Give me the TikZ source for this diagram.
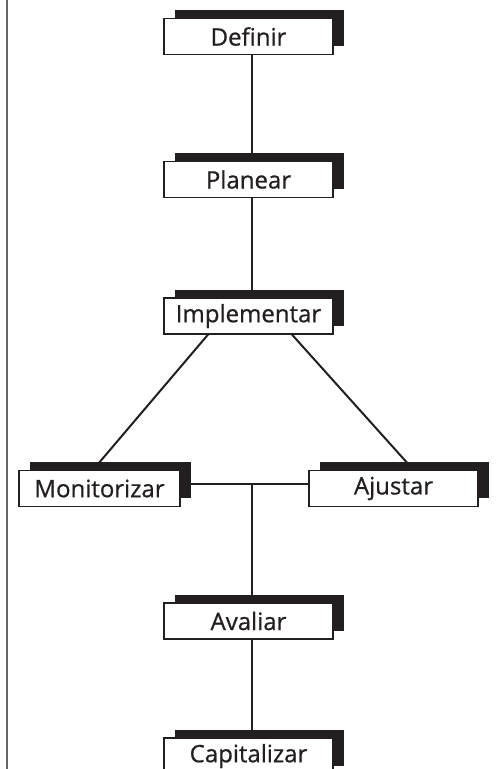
\documentclass[tikz,border=0pt]{standalone}
\usepackage{fontspec}
\setmainfont{Open Sans}
\newfontfamily\stepfont{Open Sans}[FakeBold=0.7]
\usetikzlibrary{shadows,backgrounds}
\definecolor{ink}{HTML}{231F20}
\tikzset{
  stepbox/.style={draw=ink, line width=1.2pt, fill=white, inner sep=0pt,
    minimum width=169pt, minimum height=36pt, text=ink,
    font=\stepfont\fontsize{24}{27}\selectfont,
    drop shadow={shadow xshift=10.5pt, shadow yshift=8.5pt, fill=ink, opacity=1}},
  link/.style={draw=ink, line width=2pt}
}
\begin{document}
\begin{tikzpicture}[x=1pt,y=-1pt]
  \useasboundingbox (0,0) rectangle (503,769);
  \clip (0,0) rectangle (503,769);
  % left margin rule
  \draw[gray!80!black, line width=1.6pt] (7,0) -- (7,769);

  % process steps
  \node[stepbox] (def) at (248.5,36.5) {\raisebox{-1.5pt}{Definir}};
  \node[stepbox] (pla) at (248.5,179.5) {\raisebox{-1.5pt}{Planear}};
  \node[stepbox] (imp) at (248.5,316) {\raisebox{-1.5pt}{Implementar}};
  \node[stepbox, minimum width=161pt] (mon) at (99.5,488.5) {\raisebox{-1.5pt}{Monitorizar}};
  \node[stepbox] (aju) at (393.5,488.5) {\raisebox{-1.5pt}{Ajustar}};
  \node[stepbox] (ava) at (248.5,621) {\raisebox{-1.5pt}{Avaliar}};
  \node[stepbox] (cap) at (248.5,756) {\raisebox{-1.5pt}{Capitalizar}};

  \coordinate (j) at (252,484);

  % connectors, drawn behind the boxes and their shadows
  \begin{scope}[on background layer]
    \draw[link] ([xshift=3.5pt]def.south) -- ([xshift=3.5pt]pla.north);
    \draw[link] ([xshift=3.5pt]pla.south) -- ([xshift=3.5pt]imp.north);
    \draw[link] ([xshift=-40.5pt]imp.south) -- ([xshift=-6.5pt]mon.north);
    \draw[link] ([xshift=43.5pt]imp.south) -- ([xshift=20pt]aju.north);
    \draw[link] ([yshift=4.5pt]mon.east) -- ([yshift=4.5pt]aju.west);
    \draw[link] (j) -- ([xshift=3.5pt]ava.north);
    \draw[link] ([xshift=3.5pt]ava.south) -- ([xshift=3.5pt]cap.north);
  \end{scope}
\end{tikzpicture}
\end{document}
